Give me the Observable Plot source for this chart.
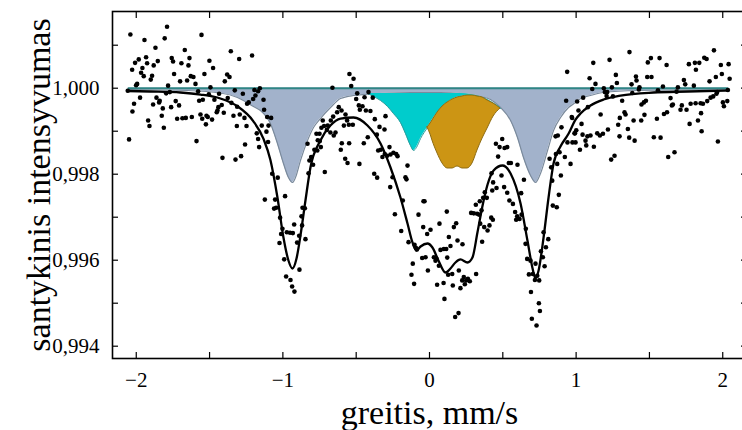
<!DOCTYPE html>
<html><head><meta charset="utf-8">
<script src="https://cdn.jsdelivr.net/npm/d3@7"></script>
<script src="https://cdn.jsdelivr.net/npm/@observablehq/plot@0.6"></script>
<style>body{margin:0;background:#fff}#chart svg{display:block}</style>
</head><body><div id="chart"></div>
<script>
// measured spectrum: [velocity mm/s, relative intensity]
const spectrum = [
[-2.040,1.00125],[-1.790,1.00143],[-1.944,1.00112],[-1.806,1.00116],[-1.555,1.00124],[-1.869,1.00094],[-1.669,1.00089],[-1.355,1.00086],[-1.210,1.00076],[-1.298,1.00068],[-1.501,1.00064],[-2.008,1.00059],[-1.983,1.00067],[-1.933,1.00072],[-1.926,1.00058],[-1.853,1.00063],[-1.758,1.0007],[-1.749,1.00062],[-1.692,1.00058],[-1.637,1.0007],[-1.644,1.00053],[-2.028,1.00043],[-1.958,1.00047],[-1.881,1.00053],[-1.967,1.00036],[-1.949,1.00028],[-1.892,1.00029],[-1.901,1.0002],[-1.742,1.00033],[-1.701,1.00016],[-1.653,1.00018],[-1.628,1.00028],[-1.610,1.00026],[-1.596,1.0001],[-1.535,1.00033],[-1.476,1.00047],[-1.380,1.00032],[-1.364,1.00026],[-1.396,1.00016],[-1.494,1.00002],[-1.994,1.0001],[-2.001,1.00007],[-1.783,1.00006],[-2.058,0.99994],[-1.796,0.99988],[-1.771,0.99991],[-1.578,0.99993],[-1.505,0.99986],[-1.435,0.99987],[-1.328,0.99995],[-1.273,0.99987],[-1.194,0.99996],[-1.169,0.99993],[-1.157,1.0],[-1.233,0.99967],[-1.244,0.99964],[-1.203,0.99975],[-1.187,0.99983],[-1.132,0.99973],[-1.974,0.99978],[-2.015,0.99964],[-2.026,0.99946],[-1.885,0.99962],[-1.862,0.99978],[-1.840,0.99971],[-1.844,0.99967],[-1.819,0.99953],[-1.762,0.99956],[-1.731,0.9997],[-1.708,0.9996],[-1.826,0.99936],[-1.571,0.99971],[-1.546,0.99973],[-1.467,0.99973],[-1.417,0.99961],[-1.440,0.99956],[-1.446,0.99948],[-1.376,0.99977],[-1.351,0.99966],[-1.312,0.99957],[-1.294,0.99939],[-1.262,0.99931],[-1.562,0.99939],[-1.521,0.99936],[-1.550,0.99929],[-1.512,0.99933],[-1.483,0.99927],[-1.451,0.99944],[-1.403,0.99943],[-1.337,0.99936],[-1.919,0.99925],[-1.910,0.99912],[-1.812,0.99908],[-1.721,0.99929],[-1.685,0.9993],[-1.662,0.99931],[-1.621,0.99933],[-1.525,0.99916],[-1.314,0.99912],[-1.248,0.99912],[-1.128,0.9995],[-1.107,0.99933],[-1.098,0.99913],[-1.144,0.99913],[-1.178,0.99895],[-1.169,0.99882],[-1.162,0.99863],[-1.112,0.99899],[-1.101,0.99875],[-1.258,0.99869],[-1.412,0.99838],[-1.323,0.99834],[-1.285,0.99842],[-1.589,0.99877],[-2.049,0.99881],[-1.123,0.99741],
[-0.546,1.00033],[-0.518,1.00022],[-0.534,1.00005],[-0.662,1.00001],[-0.493,0.99988],[-0.500,0.99975],[-0.387,0.99978],[-0.416,0.99991],[-0.443,0.99979],[-0.482,0.9996],[-0.457,0.99958],[-0.434,0.99948],[-0.403,0.99947],[-0.475,0.9995],[-0.300,0.99935],[-0.373,0.99928],[-0.341,0.9991],[-0.307,0.99904],[-0.619,0.99956],[-0.600,0.99948],[-0.630,0.99944],[-0.657,0.99934],[-0.673,0.99925],[-0.728,0.99925],[-0.719,0.99912],[-0.737,0.99908],[-0.750,0.99894],[-0.694,0.99913],[-0.700,0.99903],[-0.676,0.99897],[-0.653,0.9989],[-0.641,0.99897],[-0.584,0.99913],[-0.550,0.99915],[-0.523,0.99915],[-0.573,0.99939],[-0.562,0.99925],[-1.080,0.99931],[-0.832,0.99871],[-0.762,0.99879],[-0.771,0.99894],[-0.765,0.99855],[-0.741,0.99863],[-0.748,0.99877],[-0.785,0.99857],[-0.807,0.9984],[-0.819,0.99832],[-0.794,0.99822],[-0.825,0.99802],[-0.714,0.99805],[-0.598,0.99872],[-0.548,0.99872],[-0.605,0.99857],[-0.575,0.99836],[-0.559,0.99826],[-0.478,0.99824],[-0.448,0.99872],[-0.421,0.99886],[-0.359,0.99892],[-0.350,0.99855],[-0.332,0.99857],[-0.321,0.9984],[-0.305,0.99847],[-0.289,0.99843],[-0.273,0.99863],[-0.266,0.99846],[-0.246,0.9985],[-0.227,0.99847],[-0.218,0.99842],[-0.252,0.99793],[-0.268,0.9977],[-0.236,0.99707],[-0.377,0.99801],[-0.357,0.99792],[-0.164,0.99793],[-0.157,0.99788],[-0.150,0.9982],[-1.073,0.99801],[-1.035,0.99792],[-0.985,0.99749],[-1.053,0.99741],[-1.046,0.99722],[-1.060,0.9972],[-1.019,0.99699],[-1.003,0.99673],[-1.023,0.9964],[-1.012,0.99661],[-0.991,0.99602],[-0.973,0.99665],[-0.951,0.99664],[-0.932,0.99663],[-0.923,0.99683],[-0.889,0.99657],[-0.903,0.99641],[-0.869,0.99681],[-0.873,0.99702],[-0.866,0.99722],[-0.850,0.99721],[-0.846,0.99649],[-0.978,0.99562],[-0.948,0.99554],[-0.937,0.99539],[-0.921,0.99527],[-0.887,0.99578],[-0.182,0.99739],[-0.193,0.99668],[-0.143,0.99642],[-0.102,0.99636],[-0.093,0.99629],[-0.086,0.99625],[-0.114,0.99592],[-0.123,0.99566],[-0.105,0.99545],[-0.075,0.99706],[-0.041,0.99737],[-0.050,0.99605],
[0.939,1.00038],[0.932,0.99971],[0.973,0.99931],[1.001,0.99902],[0.900,0.99909],[0.875,0.9989],[0.860,0.99888],[0.887,0.99851],[0.923,0.9984],[0.941,0.99874],[0.975,0.99874],[0.989,0.99895],[0.819,0.99836],[0.830,0.99816],[0.862,0.99847],[0.871,0.99824],[0.896,0.99797],[0.837,0.99785],[0.882,0.99752],[0.868,0.99723],[0.841,0.99727],[0.496,0.99882],[0.453,0.99871],[0.478,0.99863],[0.512,0.99861],[0.530,0.99863],[0.468,0.99841],[0.555,0.99826],[0.541,0.99826],[0.600,0.99822],[0.423,0.99802],[0.491,0.99797],[0.434,0.99781],[0.457,0.99768],[0.509,0.9977],[0.530,0.99757],[0.625,0.99756],[0.545,0.99739],[0.569,0.99731],[0.584,0.99712],[0.598,0.99702],[0.614,0.99696],[0.591,0.99694],[0.644,0.99787],[0.428,0.99762],[0.377,0.99758],[0.366,0.99745],[0.343,0.99737],[0.391,0.99745],[0.316,0.99729],[0.302,0.99709],[0.284,0.9971],[0.325,0.99708],[0.339,0.99706],[0.355,0.99716],[0.346,0.99685],[0.373,0.99677],[0.396,0.99669],[0.409,0.99681],[0.421,0.99699],[0.432,0.99694],[0.359,0.99643],[-0.034,0.99737],[0.118,0.99713],[0.166,0.99677],[0.182,0.99686],[0.132,0.99654],[0.068,0.99685],[0.007,0.99671],[-0.016,0.99661],[-0.043,0.99677],[-0.027,0.99607],[0.030,0.99607],[0.041,0.99599],[0.075,0.99624],[0.098,0.99626],[0.114,0.99626],[0.143,0.99633],[0.191,0.99646],[0.225,0.99637],[-0.011,0.99576],[0.048,0.99603],[0.064,0.99587],[0.121,0.99606],[0.127,0.99566],[0.155,0.99568],[0.200,0.99576],[0.223,0.99553],[0.234,0.99561],[0.250,0.99553],[0.262,0.99557],[0.275,0.99551],[0.241,0.99544],[0.211,0.99535],[0.159,0.99541],[0.096,0.99547],[0.052,0.99543],[0.318,0.99568],[0.102,0.9951],[0.198,0.99477],[0.175,0.99468],[0.666,0.99603],[0.655,0.99638],[0.657,0.99673],[0.628,0.99706],[0.689,0.99599],[0.705,0.99568],[0.735,0.99564],[0.723,0.99592],[0.748,0.99553],[0.778,0.99665],[0.794,0.9963],[0.810,0.99649],[0.785,0.99586],[0.773,0.99607],[0.760,0.99621],[0.692,0.99526],[0.746,0.995],[0.753,0.99482],[0.698,0.99464],[0.730,0.99448],[0.678,0.99567],[0.719,0.99554],
[1.364,1.00084],[1.940,1.00088],[1.117,1.00059],[1.228,1.00066],[1.489,1.0006],[1.510,1.0007],[1.569,1.0007],[1.617,1.00054],[1.769,1.00056],[1.810,1.00059],[1.840,1.00059],[1.817,1.00043],[1.874,1.00071],[1.890,1.00068],[1.987,1.00054],[2.040,1.00056],[1.271,1.00031],[1.092,1.00023],[1.132,1.0001],[1.408,1.00027],[1.412,1.00018],[1.485,1.00026],[1.514,1.00026],[1.735,1.00019],[1.744,1.00009],[1.803,1.00006],[1.910,1.00016],[1.953,1.00026],[1.994,1.00033],[2.047,1.00022],[1.110,0.99998],[1.189,1.0],[1.196,0.99991],[1.212,0.99991],[1.244,1.00002],[1.208,0.99982],[1.251,0.99981],[1.278,1.00012],[1.314,0.99971],[1.378,1.00009],[1.383,0.99989],[1.428,0.99997],[1.432,1.00002],[1.446,0.99962],[1.462,0.99967],[1.476,0.99971],[1.558,0.99995],[1.592,1.00004],[1.644,0.99977],[1.653,0.9996],[1.685,0.99992],[1.694,1.00002],[1.712,0.9995],[1.721,0.9996],[1.753,0.9995],[1.781,0.99964],[1.815,0.99965],[1.849,0.99965],[1.865,0.99964],[1.894,0.9997],[1.917,0.99978],[1.935,0.99981],[1.957,0.99987],[1.962,0.99991],[2.001,0.99967],[2.008,0.99958],[2.031,0.9997],[2.035,0.99996],[1.007,0.99969],[1.016,0.99948],[1.048,0.99978],[1.080,0.99956],[1.167,0.99939],[0.970,0.99933],[0.992,0.99895],[1.037,0.99917],[1.044,0.99892],[1.064,0.99878],[1.077,0.99888],[0.996,0.99874],[1.026,0.99857],[1.069,0.99867],[1.121,0.99864],[1.098,0.9989],[1.144,0.99895],[1.162,0.9989],[1.183,0.99894],[1.217,0.99904],[1.298,0.99931],[1.287,0.99915],[1.330,0.99944],[1.337,0.99939],[1.353,0.99905],[1.296,0.99888],[1.362,0.99885],[1.399,0.99878],[1.392,0.99925],[1.444,0.99925],[1.466,0.99938],[1.551,0.99929],[1.599,0.9994],[1.620,0.99944],[1.660,0.99962],[1.530,0.99886],[1.576,0.99885],[1.628,0.9984],[1.671,0.99851],[1.774,0.99917],[1.831,0.99925],[1.852,0.99942],[1.856,0.999],[1.967,0.99876],[1.239,0.99834],[1.262,0.99843],[0.962,0.99824]
];

// total fit
const fitV = [-2.060,-1.903,-1.699,-1.562,-1.426,-1.310,-1.201,-1.132,-1.085,-1.037,-0.996,-0.962,-0.935,-0.907,-0.880,-0.846,-0.812,-0.744,-0.676,-0.607,-0.518,-0.423,-0.334,-0.266,-0.198,-0.150,-0.116,-0.089,-0.061,-0.014,0.020,0.061,0.109,0.143,0.177,0.211,0.259,0.293,0.327,0.362,0.396,0.437,0.498,0.553,0.621,0.668,0.703,0.723,0.744,0.778,0.812,0.846,0.894,0.948,0.996,1.030,1.098,1.187,1.303,1.528,1.760,2.033];
const fitI = [0.999935,0.999923,0.9999,0.999853,0.99976,0.99958,0.99923,0.99882,0.99833,0.997458,0.996528,0.995993,0.995807,0.99604,0.996574,0.997388,0.998156,0.998784,0.999133,0.999295,0.999319,0.999133,0.998714,0.998156,0.997458,0.996853,0.996412,0.996226,0.996319,0.996388,0.996295,0.995993,0.995714,0.995807,0.995947,0.996017,0.995947,0.996063,0.996644,0.997272,0.99776,0.998086,0.998202,0.998016,0.997318,0.996458,0.995807,0.995574,0.99576,0.996528,0.997458,0.998249,0.99865,0.99894,0.999272,0.999412,0.999598,0.999737,0.99983,0.9999,0.999923,0.999947];

// baseline
const baseV = [-2.053, 2.033];
const baseI = 1.0;

// grey-blue doublet (lower edge)
const doubletV = [-2.053,-1.651,-1.426,-1.310,-1.201,-1.153,-1.085,-1.037,-0.996,-0.962,-0.935,-0.914,-0.880,-0.832,-0.791,-0.744,-0.675,-0.607,-0.518,-0.334,-0.130,0.075,0.211,0.348,0.416,0.484,0.553,0.600,0.641,0.689,0.723,0.757,0.805,0.846,0.894,0.948,0.996,1.030,1.098,1.187,1.419,2.033];
const doubletI = [0.99997,0.999947,0.999888,0.999784,0.999574,0.999481,0.999179,0.998714,0.998249,0.997923,0.997807,0.997923,0.998319,0.998784,0.999086,0.999295,0.999551,0.99976,0.99983,0.999877,0.9999,0.9999,0.999877,0.999807,0.999737,0.999551,0.999249,0.998853,0.998388,0.99797,0.997807,0.998016,0.998551,0.999016,0.999319,0.999551,0.999667,0.99976,0.99983,0.9999,0.999947,0.99997];

// cyan singlet (stacked below the doublet)
const cyanV = [-0.423,-0.382,-0.334,-0.286,-0.246,-0.198,-0.164,-0.130,-0.109,-0.089,-0.061,-0.014,0.055,0.123,0.211,0.280,0.396,0.484];
const cyanUpper = [0.999877,0.999877,0.999877,0.999877,0.999877,0.999877,0.999877,0.999877,0.999877,0.999877,0.999877,0.999877,0.999877,0.999877,0.999877,0.999853,0.999737,0.999551];
const cyanLower = [0.999877,0.999807,0.999714,0.999574,0.999412,0.999202,0.998947,0.998667,0.998551,0.998621,0.99883,0.999086,0.999435,0.999667,0.999807,0.99983,0.999714,0.999528];

// orange doublet (stacked below the singlet)
const orangeV = [-0.014,0.007,0.020,0.055,0.089,0.123,0.157,0.191,0.225,0.259,0.293,0.327,0.362,0.396,0.437,0.484];
const orangeUpper = [0.999086,0.999179,0.999249,0.999435,0.999574,0.999667,0.999737,0.999784,0.999807,0.99983,0.99983,0.999807,0.999784,0.999714,0.999644,0.999528];
const orangeLower = [0.999086,0.998923,0.998784,0.998481,0.998249,0.998133,0.998133,0.99818,0.998133,0.998133,0.998249,0.998551,0.99883,0.999063,0.999342,0.999528];

const xTicks = [-2,-1.5,-1,-0.5,0,0.5,1,1.5,2];
const yTicks = [0.994,0.995,0.996,0.997,0.998,0.999,1.000,1.001];

const loc = d3.formatLocale({decimal: ",", thousands: "\u00a0", grouping: [3], currency: ["", ""], minus: "\u2212"});
const fY = loc.format(".3f");
const fX = loc.format("d");
const serif = "'Liberation Serif','Times New Roman',Times,serif";
const curve = "monotone-x";

const chart = Plot.plot({
  width: 742, height: 430,
  marginLeft: 112, marginRight: -4, marginTop: 11, marginBottom: 72,
  style: {fontFamily: serif, background: "#fff", color: "#000", overflow: "visible"},
  x: {domain: [-2.162, 2.162], label: null},
  y: {domain: [0.993714, 1.001784], label: null},
  marks: [
    Plot.areaY(doubletV, {x: doubletV, y1: baseI, y2: doubletI, curve, fill: "#a2b2cb"}),
    Plot.line(doubletV, {x: doubletV, y: doubletI, curve, stroke: "#7a8a9c", strokeWidth: 1.2}),
    Plot.areaY(cyanV, {x: cyanV, y1: cyanUpper, y2: cyanLower, curve, fill: "#00cccc"}),
    Plot.line(cyanV, {x: cyanV, y: cyanLower, curve, stroke: "#2a9c9c", strokeWidth: 1}),
    Plot.areaY(orangeV, {x: orangeV, y1: orangeUpper, y2: orangeLower, curve, fill: "#cc9514", stroke: "#8f6c12", strokeWidth: 1}),
    Plot.line(baseV, {x: baseV, y: [baseI, baseI], stroke: "#2f8585", strokeWidth: 2}),
    Plot.line(fitV, {x: fitV, y: fitI, curve, stroke: "#000", strokeWidth: 2.3}),
    Plot.dot(spectrum, {x: d => d[0], y: d => d[1], r: 2.3, fill: "#000", stroke: null}),
    Plot.frame({stroke: "#000", strokeWidth: 1.6}),
    Plot.axisX(xTicks, {anchor: "bottom", tickSize: -6, tickPadding: 20, tickFormat: d => Number.isInteger(d) ? fX(d) : "", fontSize: 21, label: null, strokeWidth: 1.2}),
    Plot.axisX(xTicks, {anchor: "top", tickSize: -6, tickFormat: () => "", label: null, strokeWidth: 1.2}),
    Plot.axisY(yTicks, {anchor: "left", tickSize: -6, tickPadding: 19, tickFormat: d => Math.round(d * 1000) % 2 === 0 ? fY(d) : "", fontSize: 21, label: null, strokeWidth: 1.2}),
    Plot.axisY(yTicks, {anchor: "right", tickSize: -6, tickFormat: () => "", label: null, strokeWidth: 1.2}),
    Plot.text(["santykinis intensyvumas"], {frameAnchor: "left", dx: -73, rotate: -90, textAnchor: "middle", lineAnchor: "middle", fontSize: 34, fill: "#000"}),
    Plot.text(["greitis, mm/s"], {frameAnchor: "bottom", dy: 65, lineAnchor: "bottom", fontSize: 34, fill: "#000"})
  ]
});
document.getElementById("chart").append(chart);
</script>
</body></html>
